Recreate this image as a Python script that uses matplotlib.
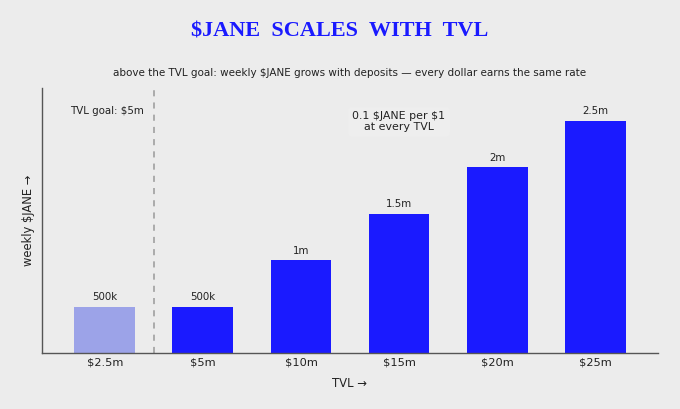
import matplotlib
matplotlib.use("Agg")
import matplotlib.pyplot as plt

# data
tvl_labels = ["\\$2.5m", "\\$5m", "\\$10m", "\\$15m", "\\$20m", "\\$25m"]
weekly_jane = [500_000, 500_000, 1_000_000, 1_500_000, 2_000_000, 2_500_000]
value_labels = ["500k", "500k", "1m", "1.5m", "2m", "2.5m"]
below_goal = [True, False, False, False, False, False]

BG = "#ececec"
BLUE = "#1a1aff"
FADED = "#9ca3e8"
INK = "#222222"

fig = plt.figure(figsize=(6.8, 4.09), dpi=100, facecolor=BG)
ax = fig.add_axes([42 / 680, 1 - 353 / 409, 616 / 680, 265 / 409])
ax.set_facecolor(BG)

x = list(range(len(weekly_jane)))
colors = [FADED if b else BLUE for b in below_goal]
bars = ax.bar(x, weekly_jane, width=0.62, color=colors)

for rect, lab in zip(bars, value_labels):
    ax.text(rect.get_x() + rect.get_width() / 2, rect.get_height() + 50_000, lab,
            ha="center", va="bottom", fontsize=7.4, color=INK)

ax.axvline(0.5, color="#999999", linestyle=(0, (4, 4)), linewidth=1.1)
ax.text(0.4, 2_610_000, "TVL goal: \\$5m", ha="right", va="center",
        fontsize=7.4, color=INK)
ax.text(3.0, 2_490_000, "0.1 \\$JANE per \\$1\nat every TVL", ha="center", va="center",
        fontsize=7.9, color=INK, linespacing=1.1,
        bbox=dict(boxstyle="round,pad=0.4", fc="#eeeeee", ec="none"))

ax.set_xlim(-0.64, 5.64)
ax.set_ylim(0, 2_855_000)
ax.set_xticks(x)
ax.set_xticklabels(tvl_labels, fontsize=8.2, color=INK)
ax.tick_params(axis="x", length=0, pad=3)
ax.set_yticks([])
for side in ["top", "right"]:
    ax.spines[side].set_visible(False)
for side in ["left", "bottom"]:
    ax.spines[side].set_color("#555555")
    ax.spines[side].set_linewidth(1.0)

ax.set_xlabel("TVL →", fontsize=8.4, color=INK, labelpad=7)
ax.set_ylabel("weekly \\$JANE →", fontsize=8.3, color=INK, labelpad=5)

fig.text(0.5, 1 - 31 / 409, "\\$JANE  SCALES  WITH  TVL", ha="center", va="center",
         fontsize=16, fontweight="bold", family="Liberation Serif", color=BLUE)
ax.set_title("above the TVL goal: weekly \\$JANE grows with deposits — every dollar earns the same rate",
             fontsize=7.5, color=INK, pad=9)

fig.savefig("out.png", dpi=100, facecolor=BG)
